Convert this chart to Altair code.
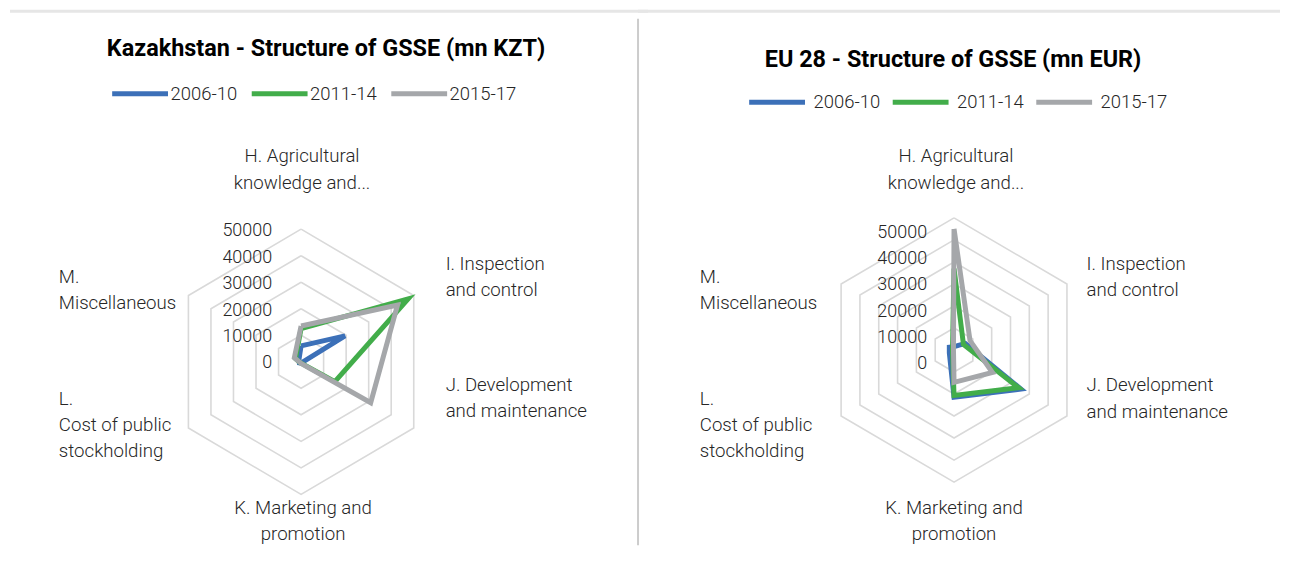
import math
import altair as alt
import pandas as pd

# ---------------- data ----------------
categories = ["H", "I", "J", "K", "L", "M"]
category_labels = [
    "H. Agricultural\nknowledge and...",
    "I. Inspection\nand control",
    "J. Development\nand maintenance",
    "K. Marketing and\npromotion",
    "L.\nCost of public\nstockholding",
    "M.\nMiscellaneous",
]
series = ["2006-10", "2011-14", "2015-17"]
colors = ["#3c70b8", "#42ad4a", "#a5a7aa"]

kaz_2006_10 = [6000, 19500, 500, 500, 800, 1000]
kaz_2011_14 = [12500, 47500, 15000, 500, 500, 2500]
kaz_2015_17 = [13500, 42800, 30900, 600, 500, 3000]

eu_2006_10 = [1500, 6000, 35500, 21500, 2500, 2500]
eu_2011_14 = [37000, 5000, 34300, 20700, 800, 800]
eu_2015_17 = [55000, 8500, 20400, 14700, 300, 300]

kaz_ticks = [0, 10000, 20000, 30000, 40000, 50000]
eu_ticks = [0, 10000, 20000, 30000, 40000, 50000]
kaz_rings = [10000, 20000, 30000, 40000, 50000]
eu_rings = [10000, 20000, 30000, 40000, 50000, 60000]

kaz_title = "Kazakhstan - Structure of GSSE (mn KZT)"
eu_title = "EU 28 - Structure of GSSE (mn EUR)"

ANGLES = [0, 60, 120, 180, 240, 300]
FONT = "Roboto"
H_ALL = 557


def panel(values, rings, ticks, title, lay):
    W, H = lay["W"], H_ALL
    cx, cy = lay["cx"], lay["cy"]
    kx, ky = lay["kx"], lay["ky"]

    def ux(px):
        return (px - cx) / kx

    def uy(py):
        return (cy - py) / ky

    xs = alt.Scale(domain=[ux(0), ux(W)], nice=False, zero=False)
    ys = alt.Scale(domain=[uy(H), uy(0)], nice=False, zero=False)
    X = alt.X("x:Q", scale=xs, axis=None)
    Y = alt.Y("y:Q", scale=ys, axis=None)

    # rings
    rrows = []
    for r in rings:
        for i in range(7):
            a = math.radians(ANGLES[i % 6])
            rrows.append(dict(ring=r, order=i, x=r * math.sin(a), y=r * math.cos(a)))
    ring_layer = alt.Chart(pd.DataFrame(rrows)).mark_line(
        color="#d9d9d9", strokeWidth=1.6
    ).encode(x=X, y=Y, detail="ring:N", order="order:Q")

    # series polygons
    prows = []
    for s, vals in zip(series, values):
        for i in range(7):
            j = i % 6
            a = math.radians(ANGLES[j])
            v = vals[j]
            prows.append(dict(series=s, order=i, x=v * math.sin(a), y=v * math.cos(a)))
    lines = alt.Chart(pd.DataFrame(prows)).mark_line(strokeWidth=5, strokeJoin="miter").encode(
        x=X, y=Y,
        color=alt.Color(
            "series:N",
            scale=alt.Scale(domain=series, range=colors),
            legend=alt.Legend(
                orient="none", legendX=lay["legX"], legendY=lay["legY"],
                direction="horizontal", title=None, symbolType="stroke",
                symbolSize=3136, symbolStrokeWidth=5, labelFont=FONT,
                labelFontSize=18.5, labelFontWeight=300, labelColor="#262626",
                labelOffset=lay["legOff"], columnPadding=lay["legPad"], padding=0,
            ),
        ),
        order="order:Q",
    )

    # tick labels
    trows = []
    for t in ticks:
        trows.append(dict(label=str(t), x=ux(cx + lay["tickDx"]),
                          y=uy(lay["tick0"] - t * lay["tickStep"] / 10000)))
    tick_layer = alt.Chart(pd.DataFrame(trows)).mark_text(
        align="right", baseline="middle", font=FONT, fontSize=18, fontWeight=300,
        color="#262626",
    ).encode(x=X, y=Y, text="label:N")

    # category labels (y = first line)
    crows_c, crows_l = [], []
    for i, (c, lab) in enumerate(zip(categories, category_labels)):
        dx, dy = lay["labels"][i]
        row = dict(label=lab, x=ux(cx + dx), y=uy(cy + dy))
        (crows_c if c in ("H", "K") else crows_l).append(row)
    lab_c = alt.Chart(pd.DataFrame(crows_c)).mark_text(
        align="center", baseline="middle", font=FONT, fontSize=18.7, fontWeight=300,
        color="#262626", lineBreak="\n", lineHeight=26.5,
    ).encode(x=X, y=Y, text="label:N")
    lab_l = alt.Chart(pd.DataFrame(crows_l)).mark_text(
        align="left", baseline="middle", font=FONT, fontSize=18.7, fontWeight=300,
        color="#262626", lineBreak="\n", lineHeight=26.5,
    ).encode(x=X, y=Y, text="label:N")

    # title
    ttl = alt.Chart(pd.DataFrame([dict(label=title, x=ux(lay["titleX"]), y=uy(lay["titleY"]))])).mark_text(
        align="center", baseline="middle", font=FONT, fontSize=23.5, fontWeight="bold",
        color="#000000",
    ).encode(x=X, y=Y, text="label:N")

    # frame band on top
    band = alt.Chart(pd.DataFrame([dict(x=ux(0), x2=ux(W + lay["bandExtra"]), y=uy(1.5))])).mark_rule(
        color="#e6e6e6", strokeWidth=3
    ).encode(x=X, x2="x2:Q", y=Y)

    layers = [band, ring_layer, lines, tick_layer, lab_c, lab_l, ttl]
    if lay.get("divider"):
        div = alt.Chart(pd.DataFrame([dict(x=ux(W), y=uy(9), y2=uy(537))])).mark_rule(
            color="#cccccc", strokeWidth=2
        ).encode(x=X, y=Y, y2="y2:Q")
        layers.append(div)

    return alt.layer(*layers).properties(width=W, height=H)


left_lay = dict(
    W=630, cx=292, cy=353, kx=130.5 / 50000, ky=133.0 / 50000,
    legX=100, legY=53.5, legOff=0, legPad=4,
    tickDx=-29, tick0=354.7, tickStep=26.5,
    labels=[(1, -206), (145, -98), (145, 23), (2, 146.5), (-243, 37), (-243, -85)],
    titleX=317, titleY=39.5, divider=True, bandExtra=10,
)
right_lay = dict(
    W=644, cx=317, cy=341.2, kx=130.8 / 60000, ky=132.5 / 60000,
    legX=109, legY=62, legOff=6, legPad=2,
    tickDx=-27, tick0=355.3, tickStep=26.3,
    labels=[(2, -194.2), (133, -86.2), (133, 35.3), (0, 158.3), (-255, 48.8), (-255, -73.2)],
    titleX=316, titleY=50, divider=False, bandExtra=0,
)

p1 = panel([kaz_2006_10, kaz_2011_14, kaz_2015_17], kaz_rings, kaz_ticks, kaz_title, left_lay)
p2 = panel([eu_2006_10, eu_2011_14, eu_2015_17], eu_rings, eu_ticks, eu_title, right_lay)

chart = (
    alt.hconcat(p1, p2, spacing=0, bounds="flush")
    .resolve_scale(color="independent", x="independent", y="independent")
    .resolve_legend(color="independent")
    .properties(padding=0)
    .configure_view(stroke=None)
)

chart.save("out.html", embed_options={"renderer": "svg", "actions": False})
